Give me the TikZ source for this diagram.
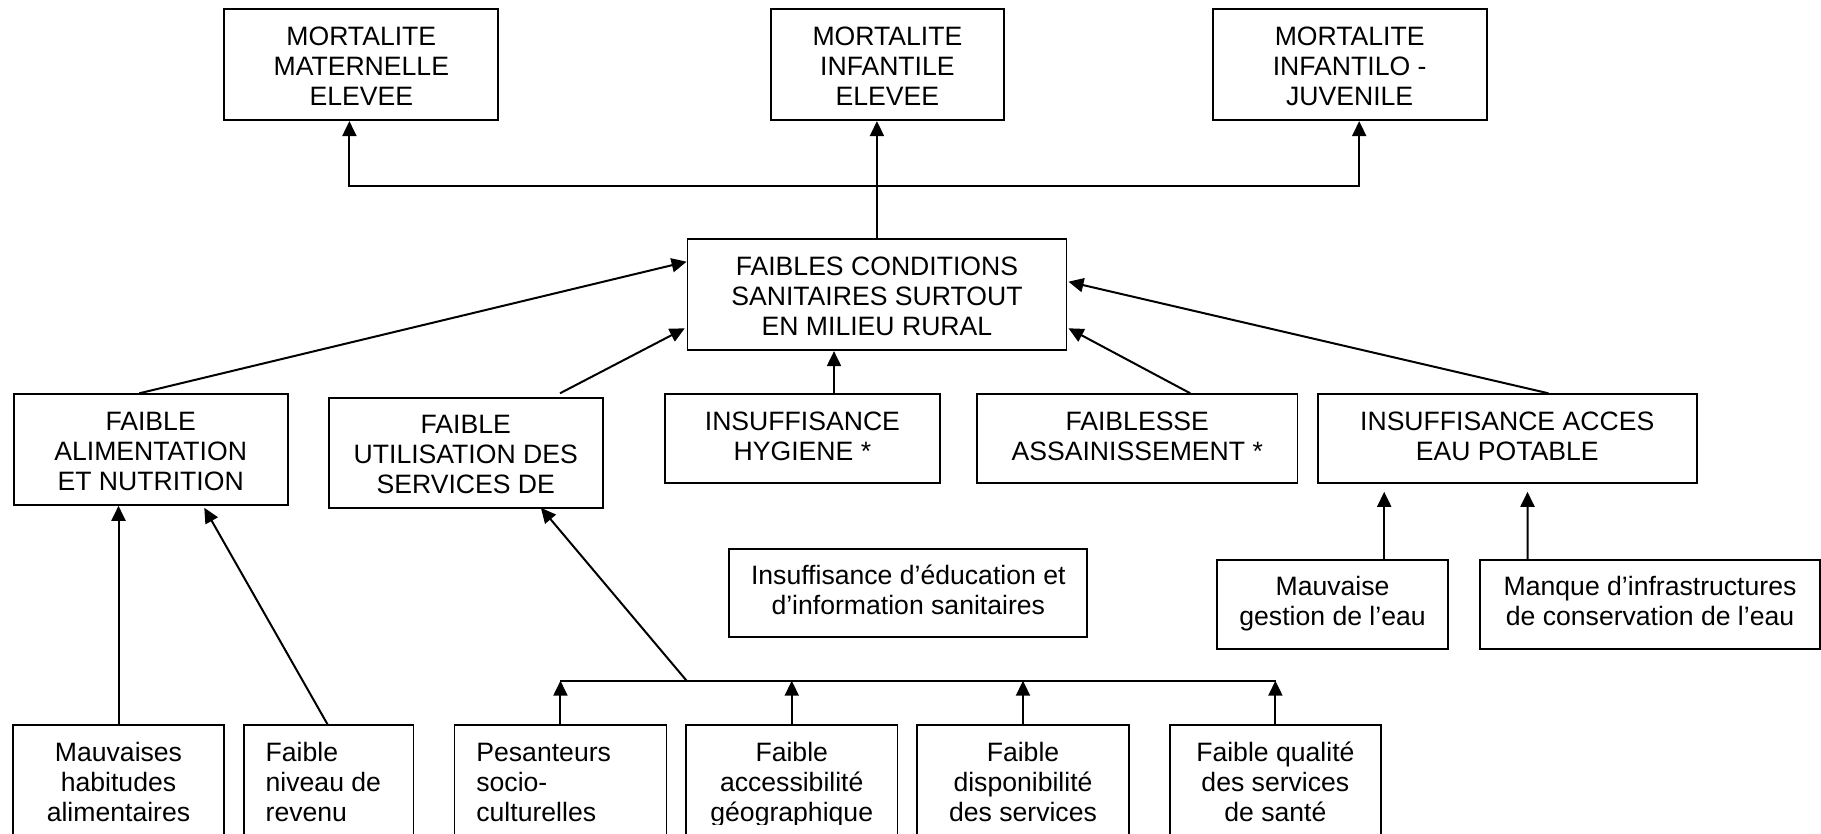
\documentclass[tikz,border=0pt]{standalone}
\usepackage{fontspec}
\setmainfont{Liberation Sans}
\usetikzlibrary{arrows.meta,calc}
% box content: width, height (in px units), alignment, lines
\newcommand{\bx}[4]{\parbox[c][\dimexpr #2pt/2\relax][t]{\dimexpr #1pt/2\relax}{#3\leavevmode\rule{0pt}{18pt}#4}}
\tikzset{
  txtfont/.style={font=\fontsize{13.3pt}{15pt}\selectfont},
  box/.style={draw, line width=0.9pt, inner sep=0pt, anchor=north west, txtfont},
  lowbox/.style={inner sep=0pt, anchor=north west, txtfont},
  frame/.style={line width=0.9pt},
  link/.style={line width=1pt},
  arr/.style={line width=1pt, -{Triangle[length=7.5pt,width=7pt]}},
  arrboth/.style={line width=1pt, {Triangle[length=7.5pt,width=7pt]}-{Triangle[length=7.5pt,width=7pt]}},
}
\begin{document}
\begin{tikzpicture}[x=0.5pt,y=-0.5pt]
\useasboundingbox (0,0) rectangle (1821,834);
\clip (0,0) rectangle (1821,834);
\fill[white] (0,0) rectangle (1821,834);

% top row: consequences
\node[box] (mat)  at (223.4,8.3)  {\bx{274}{111}{\centering}{MORTALITE\\MATERNELLE\\ELEVEE}};
\node[box] (inf)  at (770.1,8.3)  {\bx{232.8}{111}{\centering}{MORTALITE\\INFANTILE\\ELEVEE}};
\node[box] (ijuv) at (1211.8,8.3) {\bx{273.9}{111}{\centering}{MORTALITE\\INFANTILO -\\JUVENILE}};

% central problem
\node[box] (fc) at (686.6,238.3) {\bx{378.9}{111}{\centering}{FAIBLES CONDITIONS\\SANITAIRES SURTOUT\\EN MILIEU RURAL}};

% direct causes
\node[box] (ali)  at (12.8,393.3)   {\bx{273.9}{110.7}{\centering}{FAIBLE\\ALIMENTATION\\ET NUTRITION}};
\node[box] (util) at (327.9,396.7)  {\bx{273.9}{110.3}{\centering}{FAIBLE\\UTILISATION DES\\SERVICES DE}};
\node[box] (hyg)  at (664,393.3)    {\bx{275}{88.4}{\centering}{INSUFFISANCE\\HYGIENE *}};
\node[box] (fai)  at (976.2,393.3)  {\bx{320.3}{88.4}{\centering}{FAIBLESSE\\ASSAINISSEMENT *}};
\node[box] (eau)  at (1316.8,393.3) {\bx{379}{88.4}{\centering}{INSUFFISANCE ACCES\\EAU POTABLE}};

% secondary causes
\node[box] (edu) at (728.4,547.7)  {\bx{358}{88.6}{\centering}{Insuffisance d’éducation et\\d’information sanitaires}};
\node[box] (ges) at (1215.9,559)   {\bx{231.5}{88.7}{\centering}{Mauvaise\\gestion de l’eau}};
\node[box] (man) at (1479.4,559)   {\bx{339.5}{88.7}{\centering}{Manque d’infrastructures\\de conservation de l’eau}};

% bottom row, text cut at the lower text margin
\begin{scope}
  \clip (0,0) rectangle (1821,824.5);
  \node[lowbox] (mau) at (12.8,725)  {\bx{210.6}{130}{\centering}{Mauvaises\\habitudes\\alimentaires}};
  \node[lowbox] (niv) at (244.3,725) {\bx{168.3}{130}{\raggedright\leftskip=10.5pt}{Faible\\niveau de\\revenu}};
  \node[lowbox] (pes) at (454.4,725) {\bx{211.3}{130}{\raggedright\leftskip=10.8pt}{Pesanteurs\\socio-\\culturelles}};
  \node[lowbox] (acc) at (686,725)   {\bx{210.7}{130}{\centering}{Faible\\accessibilité\\géographique}};
  \node[lowbox] (dis) at (917,725)   {\bx{211.2}{130}{\centering}{Faible\\disponibilité\\des services}};
  \node[lowbox] (qua) at (1170,725)  {\bx{210}{130}{\centering}{Faible qualité\\des services\\de santé}};
\end{scope}
\foreach \n in {mau,niv,pes,acc,dis,qua}
  \draw[frame] (\n.south west) rectangle (\n.north east);

% links to the consequences
\coordinate (busL) at (349.4,186);
\coordinate (busR) at (1359.2,186);
\draw[arrboth] (mat.south -| busL) |- (busR) -- (busR |- ijuv.south);
\draw[arr] (fc.north) -- (fc.north |- inf.south);

% links to the central problem
\draw[arr] ($(ali.north west)+(126.5,0)$) -- ($(fc.north west)+(0,23.4)$);
\draw[arr] ($(util.north west)+(232.1,-3.4)$) -- ($(fc.north west)+(-1.8,90)$);
\draw[arr] ($(hyg.north west)+(170,0)$) -- ($(fc.south west)+(147.4,0)$);
\draw[arr] ($(fai.north west)+(214.1,0)$) -- ($(fc.north east)+(1.2,90)$);
\draw[arr] ($(eau.north west)+(231.6,0)$) -- ($(fc.north east)+(1.2,43.4)$);

% food and nutrition
\draw[arr] (mau.north) -- (mau.north |- ali.south);
\draw[arr] ($(niv.north west)+(83.6,0)$) -- ($(ali.south west)+(191.5,2)$);

% use of health services
\draw[link] ($(pes.north)+(0,-44.3)$) -- ($(qua.north)+(0.6,-44.3)$);
\foreach \n in {pes,acc,dis,qua}
  \draw[arr] (\n.north) -- ++(0,-44.3);
\draw[arr] ($(acc.north west)+(0.6,-44.3)$) -- ($(util.south west)+(213,-1)$);

% drinking water
\draw[arr] ($(ges.north west)+(168.3,0)$) -- ($(eau.south west)+(67.4,8.3)$);
\draw[arr] ($(man.north west)+(48.1,0)$) -- ($(eau.south west)+(210.7,8.3)$);
\end{tikzpicture}
\end{document}
